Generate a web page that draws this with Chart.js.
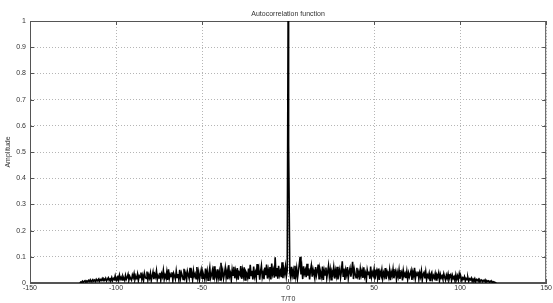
<!DOCTYPE html>
<html lang="en">
<head>
  <meta charset="UTF-8" />
  <title>Autocorrelation function</title>
  <script src="https://cdn.jsdelivr.net/npm/chart.js"></script>
  <style>
    html, body { margin: 0; padding: 0; background: #fff; }
    #grafico { display: block; }
  </style>
</head>
<body>
  <canvas id="grafico" width="553" height="303"></canvas>

  <script>
    // valores (passo de 0.5 em T/T0)
    const valoresNeg = [ // T/T0 = -121 ... -0.5
      0.000, 0.004, 0.002, 0.007, 0.003, 0.006, 0.009, 0.004, 0.008, 0.005,
      0.010, 0.006, 0.012, 0.005, 0.009, 0.013, 0.007, 0.011, 0.006, 0.014,
      0.008, 0.012, 0.016, 0.007, 0.013, 0.010, 0.017, 0.009, 0.015, 0.011,
      0.018, 0.008, 0.014, 0.020, 0.010, 0.016, 0.012, 0.021, 0.009, 0.017,
      0.013, 0.027, 0.010, 0.019, 0.024, 0.011, 0.030, 0.015, 0.022, 0.012,
      0.026, 0.018, 0.010, 0.029, 0.014, 0.021, 0.033, 0.012, 0.025, 0.017,
      0.011, 0.030, 0.020, 0.036, 0.013, 0.024, 0.018, 0.034, 0.010, 0.027,
      0.021, 0.040, 0.014, 0.029, 0.011, 0.037, 0.022, 0.017, 0.044, 0.012,
      0.031, 0.019, 0.038, 0.010, 0.026, 0.042, 0.015, 0.033, 0.023, 0.046,
      0.013, 0.028, 0.019, 0.039, 0.011, 0.035, 0.024, 0.048, 0.014, 0.030,
      0.020, 0.043, 0.012, 0.052, 0.018, 0.033, 0.025, 0.041, 0.010, 0.037,
      0.027, 0.015, 0.046, 0.021, 0.034, 0.012, 0.050, 0.019, 0.039, 0.028,
      0.014, 0.054, 0.022, 0.036, 0.011, 0.044, 0.030, 0.017, 0.058, 0.020,
      0.038, 0.013, 0.047, 0.026, 0.035, 0.016, 0.061, 0.021, 0.042, 0.012,
      0.033, 0.050, 0.018, 0.040, 0.027, 0.014, 0.055, 0.023, 0.045, 0.011,
      0.036, 0.059, 0.019, 0.031, 0.048, 0.013, 0.064, 0.025, 0.039, 0.016,
      0.052, 0.022, 0.043, 0.012, 0.077, 0.028, 0.047, 0.017, 0.035, 0.058,
      0.020, 0.044, 0.014, 0.068, 0.026, 0.038, 0.011, 0.051, 0.030, 0.062,
      0.018, 0.046, 0.024, 0.057, 0.013, 0.040, 0.033, 0.065, 0.016, 0.049,
      0.027, 0.060, 0.012, 0.043, 0.036, 0.021, 0.055, 0.015, 0.069, 0.029,
      0.047, 0.014, 0.063, 0.025, 0.040, 0.018, 0.072, 0.031, 0.052, 0.013,
      0.044, 0.066, 0.022, 0.038, 0.015, 0.059, 0.030, 0.070, 0.017, 0.048,
      0.026, 0.061, 0.014, 0.074, 0.035, 0.050, 0.020, 0.098, 0.028, 0.057,
      0.016, 0.066, 0.031, 0.045, 0.022, 0.079, 0.018, 0.054, 0.036, 0.063,
      0.025, 0.048
    ];
    const lagsPico = [0, 0.3];
    const valoresPico = [1.0, 0.53];
    const valoresPos = [ // T/T0 = 1 ... 121
      0.040, 0.021, 0.062, 0.030, 0.048, 0.017, 0.066, 0.027, 0.055, 0.019,
      0.044, 0.071, 0.100, 0.033, 0.058, 0.015, 0.064, 0.036, 0.049, 0.022,
      0.073, 0.028, 0.056, 0.014, 0.047, 0.067, 0.024, 0.052, 0.035, 0.018,
      0.061, 0.029, 0.045, 0.070, 0.016, 0.053, 0.038, 0.023, 0.063, 0.012,
      0.048, 0.031, 0.059, 0.019, 0.042, 0.066, 0.025, 0.050, 0.013, 0.044,
      0.034, 0.060, 0.017, 0.047, 0.027, 0.062, 0.014, 0.039, 0.053, 0.021,
      0.045, 0.083, 0.026, 0.055, 0.012, 0.049, 0.032, 0.061, 0.018, 0.043,
      0.057, 0.024, 0.046, 0.081, 0.015, 0.052, 0.035, 0.020, 0.058, 0.028,
      0.041, 0.013, 0.054, 0.030, 0.047, 0.019, 0.060, 0.025, 0.038, 0.011,
      0.050, 0.033, 0.044, 0.016, 0.063, 0.022, 0.040, 0.029, 0.052, 0.014,
      0.037, 0.048, 0.020, 0.055, 0.012, 0.043, 0.031, 0.051, 0.017, 0.039,
      0.026, 0.057, 0.015, 0.045, 0.034, 0.021, 0.049, 0.011, 0.041, 0.028,
      0.053, 0.018, 0.036, 0.046, 0.013, 0.040, 0.024, 0.050, 0.016, 0.033,
      0.042, 0.010, 0.047, 0.027, 0.036, 0.019, 0.044, 0.014, 0.038, 0.023,
      0.035, 0.048, 0.012, 0.041, 0.026, 0.058, 0.017, 0.037, 0.029, 0.044,
      0.015, 0.039, 0.024, 0.046, 0.011, 0.033, 0.040, 0.018, 0.043, 0.013,
      0.030, 0.022, 0.037, 0.010, 0.034, 0.041, 0.016, 0.028, 0.019, 0.036,
      0.012, 0.031, 0.024, 0.038, 0.009, 0.033, 0.020, 0.027, 0.014, 0.035,
      0.022, 0.011, 0.030, 0.018, 0.034, 0.013, 0.026, 0.032, 0.010, 0.029,
      0.017, 0.024, 0.008, 0.031, 0.014, 0.027, 0.012, 0.035, 0.019, 0.022,
      0.009, 0.020, 0.015, 0.024, 0.008, 0.018, 0.013, 0.021, 0.007, 0.016,
      0.012, 0.019, 0.006, 0.015, 0.010, 0.017, 0.005, 0.013, 0.009, 0.014,
      0.004, 0.012, 0.008, 0.011, 0.005, 0.010, 0.007, 0.012, 0.003, 0.009,
      0.006, 0.008, 0.003, 0.007, 0.004, 0.006, 0.002, 0.005, 0.003, 0.002,
      0.000
    ];
    const ticksX = [-150, -100, -50, 0, 50, 100, 150];
    const ticksY = [0, 0.1, 0.2, 0.3, 0.4, 0.5, 0.6, 0.7, 0.8, 0.9, 1];

    // monta os pontos {x, y}
    let pontos = [];
    valoresNeg.forEach((v, i) => pontos.push({ x: -121 + i * 0.5, y: v }));
    valoresPico.forEach((v, i) => pontos.push({ x: lagsPico[i], y: v }));
    valoresPos.forEach((v, i) => pontos.push({ x: 1 + i * 0.5, y: v }));

    const fonte = { family: 'Liberation Sans, Arial, sans-serif', size: 7 };
    const corTexto = '#333';
    const corGrade = '#b5b5b5';

    // titulo, moldura e marcas internas estilo MATLAB
    const extras = {
      id: 'extras',
      beforeDatasetsDraw(chart) {
        const ctx = chart.ctx;
        const a = chart.chartArea;
        const sx = chart.scales.x, sy = chart.scales.y;
        ctx.save();
        ctx.strokeStyle = '#555';
        ctx.lineWidth = 1;
        ctx.setLineDash([]);
        ctx.strokeRect(a.left + 0.5, a.top + 0.5, a.right - a.left - 1, a.bottom - a.top - 1);
        ctx.beginPath();
        ticksX.forEach(t => {
          const px = Math.round(sx.getPixelForValue(t)) + 0.5;
          ctx.moveTo(px, a.bottom); ctx.lineTo(px, a.bottom - 4);
          ctx.moveTo(px, a.top); ctx.lineTo(px, a.top + 4);
        });
        ticksY.forEach(t => {
          const py = Math.round(sy.getPixelForValue(t)) + 0.5;
          ctx.moveTo(a.left, py); ctx.lineTo(a.left + 4, py);
          ctx.moveTo(a.right, py); ctx.lineTo(a.right - 4, py);
        });
        ctx.stroke();
        ctx.restore();
      },
      afterDraw(chart) {
        const ctx = chart.ctx;
        const a = chart.chartArea;
        ctx.save();
        ctx.fillStyle = corTexto;
        ctx.font = '7px ' + fonte.family;
        ctx.textAlign = 'center';
        ctx.textBaseline = 'middle';
        ctx.fillText('Autocorrelation function', (a.left + a.right) / 2, 14);
        ctx.restore();
      }
    };

    const config = {
      type: 'line',
      data: {
        datasets: [{
          data: pontos,
          borderColor: '#000',
          borderWidth: 1.6,
          pointRadius: 0,
          tension: 0,
          fill: false
        }]
      },
      options: {
        responsive: false,
        animation: false,
        layout: { padding: { top: 21, right: 3, left: 0, bottom: 0 } },
        plugins: { legend: { display: false }, tooltip: { enabled: false } },
        scales: {
          x: {
            type: 'linear',
            min: -150,
            max: 150,
            afterBuildTicks: s => { s.ticks = ticksX.map(v => ({ value: v })); },
            afterFit: s => { s.height = 20; },
            ticks: { font: fonte, color: corTexto, padding: 1, maxRotation: 0, callback: v => String(v) },
            grid: { color: corGrade, lineWidth: 1, drawTicks: false },
            border: { color: '#555', dash: [1, 2] },
            title: { display: true, text: 'T/T0', font: fonte, color: corTexto, padding: 0 }
          },
          y: {
            min: 0,
            max: 1,
            afterBuildTicks: s => { s.ticks = ticksY.map(v => ({ value: v })); },
            afterFit: s => { s.width = 30; },
            ticks: { font: fonte, color: corTexto, padding: 4, callback: v => String(v) },
            grid: { color: corGrade, lineWidth: 1, drawTicks: false },
            border: { color: '#555', dash: [1, 2] },
            title: { display: true, text: 'Amplitude', font: fonte, color: corTexto, padding: { top: 4, bottom: 0 } }
          }
        }
      },
      plugins: [extras]
    };

    let meuGrafico = new Chart(document.getElementById('grafico'), config);
  </script>
</body>
</html>
